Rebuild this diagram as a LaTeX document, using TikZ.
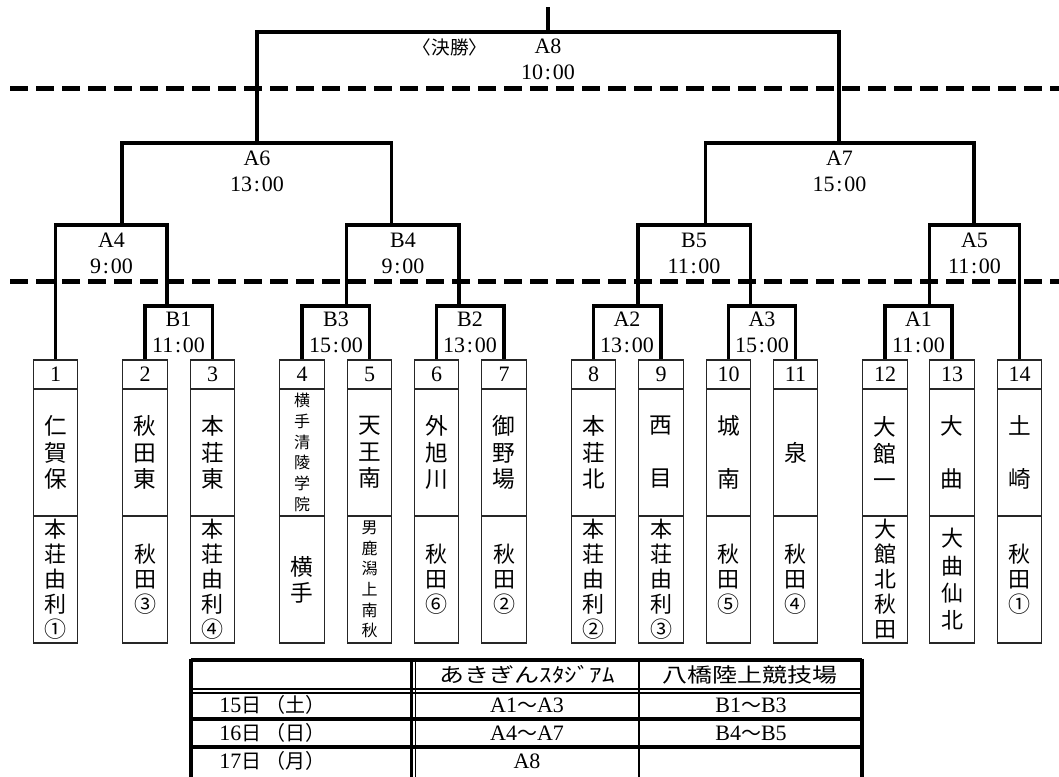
\documentclass[tikz,border=0pt]{standalone}
\usepackage{fontspec}
\setmainfont{Liberation Serif}
\newfontfamily\jp{Noto Sans CJK JP}
\newcommand\tm[2]{#1\kern1.3pt:\kern1.3pt#2}
\newcommand\jt[1]{{\jp\fontsize{15}{17}\selectfont #1}}
\begin{document}
\begin{tikzpicture}[x=0.75pt,y=-0.75pt,
  bracket/.style={line width=2.3pt},
  sepline/.style={line width=3.75pt,dash pattern=on 13.5pt off 6pt},
  cellbox/.style={draw=black!85,line width=1pt,inner sep=0pt,minimum width=33.4pt},
  numcell/.style={cellbox,minimum height=21.75pt,font=\fontsize{16.5}{18}\selectfont},
  namecell/.style={cellbox,minimum height=95.25pt,align=center,font=\jp\fontsize{17}{19.9}\selectfont},
  lowcell/.style={cellbox,minimum height=95.25pt,align=center,font=\jp\fontsize{16.5}{18.75}\selectfont},
  smalltxt/.style={font=\jp\fontsize{12}{15.5}\selectfont},
  mlabel/.style={align=center,inner sep=0pt,font=\fontsize{16.5}{19.5}\selectfont},
  tline/.style={line width=3pt},
  dline/.style={line width=2.2pt},
  thinline/.style={line width=1pt},
  thead/.style={inner sep=0pt,font=\jp\fontsize{15}{18}\selectfont},
  tcell/.style={inner sep=0pt,text height=11.2pt,text depth=0pt,font=\fontsize{16.5}{18}\selectfont},
]
\useasboundingbox (0,0) rectangle (1059,776);
% separators
\draw[sepline] (10,88) -- (1059,88);
\draw[sepline] (10,281) -- (1059,281);

% team boxes
\node[numcell] (n1) at (55.5,374.5) {1};
\node[namecell] (u1) at (55.5,452.5) {仁\\賀\\保};
\node[lowcell] (l1) at (55.5,579.5) {本\\荘\\由\\利\\①};

\node[numcell] (n2) at (145,374.5) {2};
\node[namecell] (u2) at (145,452.5) {秋\\田\\東};
\node[lowcell] (l2) at (145,579.5) {秋\\田\\③};

\node[numcell] (n3) at (212.5,374.5) {3};
\node[namecell] (u3) at (212.5,452.5) {本\\荘\\東};
\node[lowcell] (l3) at (212.5,579.5) {本\\荘\\由\\利\\④};

\node[numcell] (n4) at (302,374.5) {4};
\node[namecell,smalltxt] (u4) at (302,452.5) {横\\手\\清\\陵\\学\\院};
\node[lowcell,font=\jp\fontsize{17}{19.5}\selectfont] (l4) at (302,579.5) {横\\手};

\node[numcell] (n5) at (369.5,374.5) {5};
\node[namecell] (u5) at (369.5,452.5) {天\\王\\南};
\node[lowcell,smalltxt] (l5) at (369.5,579.5) {男\\鹿\\潟\\上\\南\\秋};

\node[numcell] (n6) at (436.5,374.5) {6};
\node[namecell] (u6) at (436.5,452.5) {外\\旭\\川};
\node[lowcell] (l6) at (436.5,579.5) {秋\\田\\⑥};

\node[numcell] (n7) at (504,374.5) {7};
\node[namecell] (u7) at (504,452.5) {御\\野\\場};
\node[lowcell] (l7) at (504,579.5) {秋\\田\\②};

\node[numcell] (n8) at (593.5,374.5) {8};
\node[namecell] (u8) at (593.5,452.5) {本\\荘\\北};
\node[lowcell] (l8) at (593.5,579.5) {本\\荘\\由\\利\\②};

\node[numcell] (n9) at (661,374.5) {9};
\node[namecell] (u9) at (661,452.5) {西\\[19.9pt]目};
\node[lowcell] (l9) at (661,579.5) {本\\荘\\由\\利\\③};

\node[numcell] (n10) at (728.5,374.5) {10};
\node[namecell] (u10) at (728.5,452.5) {城\\[19.9pt]南};
\node[lowcell] (l10) at (728.5,579.5) {秋\\田\\⑤};

\node[numcell] (n11) at (795.5,374.5) {11};
\node[namecell] (u11) at (795.5,452.5) {泉};
\node[lowcell] (l11) at (795.5,579.5) {秋\\田\\④};

\node[numcell] (n12) at (885,374.5) {12};
\node[namecell] (u12) at (885,452.5) {大\\館\\一};
\node[lowcell] (l12) at (885,579.5) {大\\館\\北\\秋\\田};

\node[numcell] (n13) at (952,374.5) {13};
\node[namecell] (u13) at (952,452.5) {大\\[19.9pt]曲};
\node[lowcell,font=\jp\fontsize{16.5}{20.5}\selectfont] (l13) at (952,579.5) {大\\曲\\仙\\北};

\node[numcell] (n14) at (1019.5,374.5) {14};
\node[namecell] (u14) at (1019.5,452.5) {土\\[19.9pt]崎};
\node[lowcell] (l14) at (1019.5,579.5) {秋\\田\\①};

% bracket junctions
\coordinate (top) at (548,7);
\coordinate (sA8) at (548,32);
\coordinate (sA6) at (257,143);
\coordinate (sA7) at (839,143);
\coordinate (sA4) at (122,225);
\coordinate (sB4) at (391.5,225);
\coordinate (sB5) at (705.5,225);
\coordinate (sA5) at (974,225);
\coordinate (sB1) at (167,306);
\coordinate (sB3) at (346.5,306);
\coordinate (sB2) at (459,306);
\coordinate (sA2) at (638,306);
\coordinate (sA3) at (750.5,306);
\coordinate (sA1) at (929.5,306);

% brackets
\draw[bracket] (top) -- (sA8);
\draw[bracket] (sA6) |- (sA8) -| (sA7);
\draw[bracket] (sA4) |- (sA6) -| (sB4);
\draw[bracket] (sB5) |- (sA7) -| (sA5);
\draw[bracket] (n1.north) |- (sA4) -| (sB1);
\draw[bracket] (sB3) |- (sB4) -| (sB2);
\draw[bracket] (sA2) |- (sB5) -| (sA3);
\draw[bracket] (sA1) |- (sA5) -| (n14.north);
\draw[bracket] (n2.north) |- (sB1) -| (n3.north);
\draw[bracket] (n4.north) |- (sB3) -| (n5.north);
\draw[bracket] (n6.north) |- (sB2) -| (n7.north);
\draw[bracket] (n8.north) |- (sA2) -| (n9.north);
\draw[bracket] (n10.north) |- (sA3) -| (n11.north);
\draw[bracket] (n12.north) |- (sA1) -| (n13.north);

% match labels
\node[inner sep=0pt,font=\jp\fontsize{14}{16}\selectfont] (fin) at (450,47) {〈決勝〉};
\node[mlabel] (lA8) at (548,59.5) {A8\\\tm{10}{00}};
\node[mlabel] (lA6) at (257,171) {A6\\\tm{13}{00}};
\node[mlabel] (lA7) at (839.5,171) {A7\\\tm{15}{00}};
\node[mlabel] (lA4) at (111.5,253) {A4\\\tm{9}{00}};
\node[mlabel] (lB4) at (403,253) {B4\\\tm{9}{00}};
\node[mlabel] (lB5) at (694,253) {B5\\\tm{11}{00}};
\node[mlabel] (lA5) at (974.5,253) {A5\\\tm{11}{00}};
\node[mlabel] (lB1) at (178.5,332.5) {B1\\\tm{11}{00}};
\node[mlabel] (lB3) at (336,332.5) {B3\\\tm{15}{00}};
\node[mlabel] (lB2) at (470,332.5) {B2\\\tm{13}{00}};
\node[mlabel] (lA2) at (627,332.5) {A2\\\tm{13}{00}};
\node[mlabel] (lA3) at (762,332.5) {A3\\\tm{15}{00}};
\node[mlabel] (lA1) at (918.5,332.5) {A1\\\tm{11}{00}};

% schedule table
\draw[tline] (191,660) -- (862,660);
\draw[tline] (191,658.5) -- (191,780);
\draw[tline] (862,658.5) -- (862,780);
\draw[dline] (191,689) -- (862,689);
\draw[thinline] (191,693) -- (862,693);
\draw[tline] (191,718.5) -- (862,718.5);
\draw[tline] (191,746.5) -- (862,746.5);
\draw[dline] (411.7,660) -- (411.7,780);
\draw[thinline] (415.8,660) -- (415.8,780);
\draw[dline] (639,660) -- (639,780);

\node[thead] (th2) at (527,675) {\scalebox{1.25}[1]{あきぎんｽﾀｼﾞｱﾑ}};
\node[thead] (th3) at (750,675) {\scalebox{1.25}[1]{八橋陸上競技場}};
\node[tcell,anchor=west] (td1) at (219,705.5) {15\jt{日 （土）}};
\node[tcell,anchor=west] (td2) at (219,733.5) {16\jt{日 （日）}};
\node[tcell,anchor=west] (td3) at (219,761) {17\jt{日 （月）}};
\node[tcell] (ta1) at (527,705.5) {A1\jt{～}A3};
\node[tcell] (ta2) at (527,733.5) {A4\jt{～}A7};
\node[tcell] (ta3) at (527,761) {A8};
\node[tcell] (tb1) at (751,705.5) {B1\jt{～}B3};
\node[tcell] (tb2) at (751,733.5) {B4\jt{～}B5};
\end{tikzpicture}
\end{document}
